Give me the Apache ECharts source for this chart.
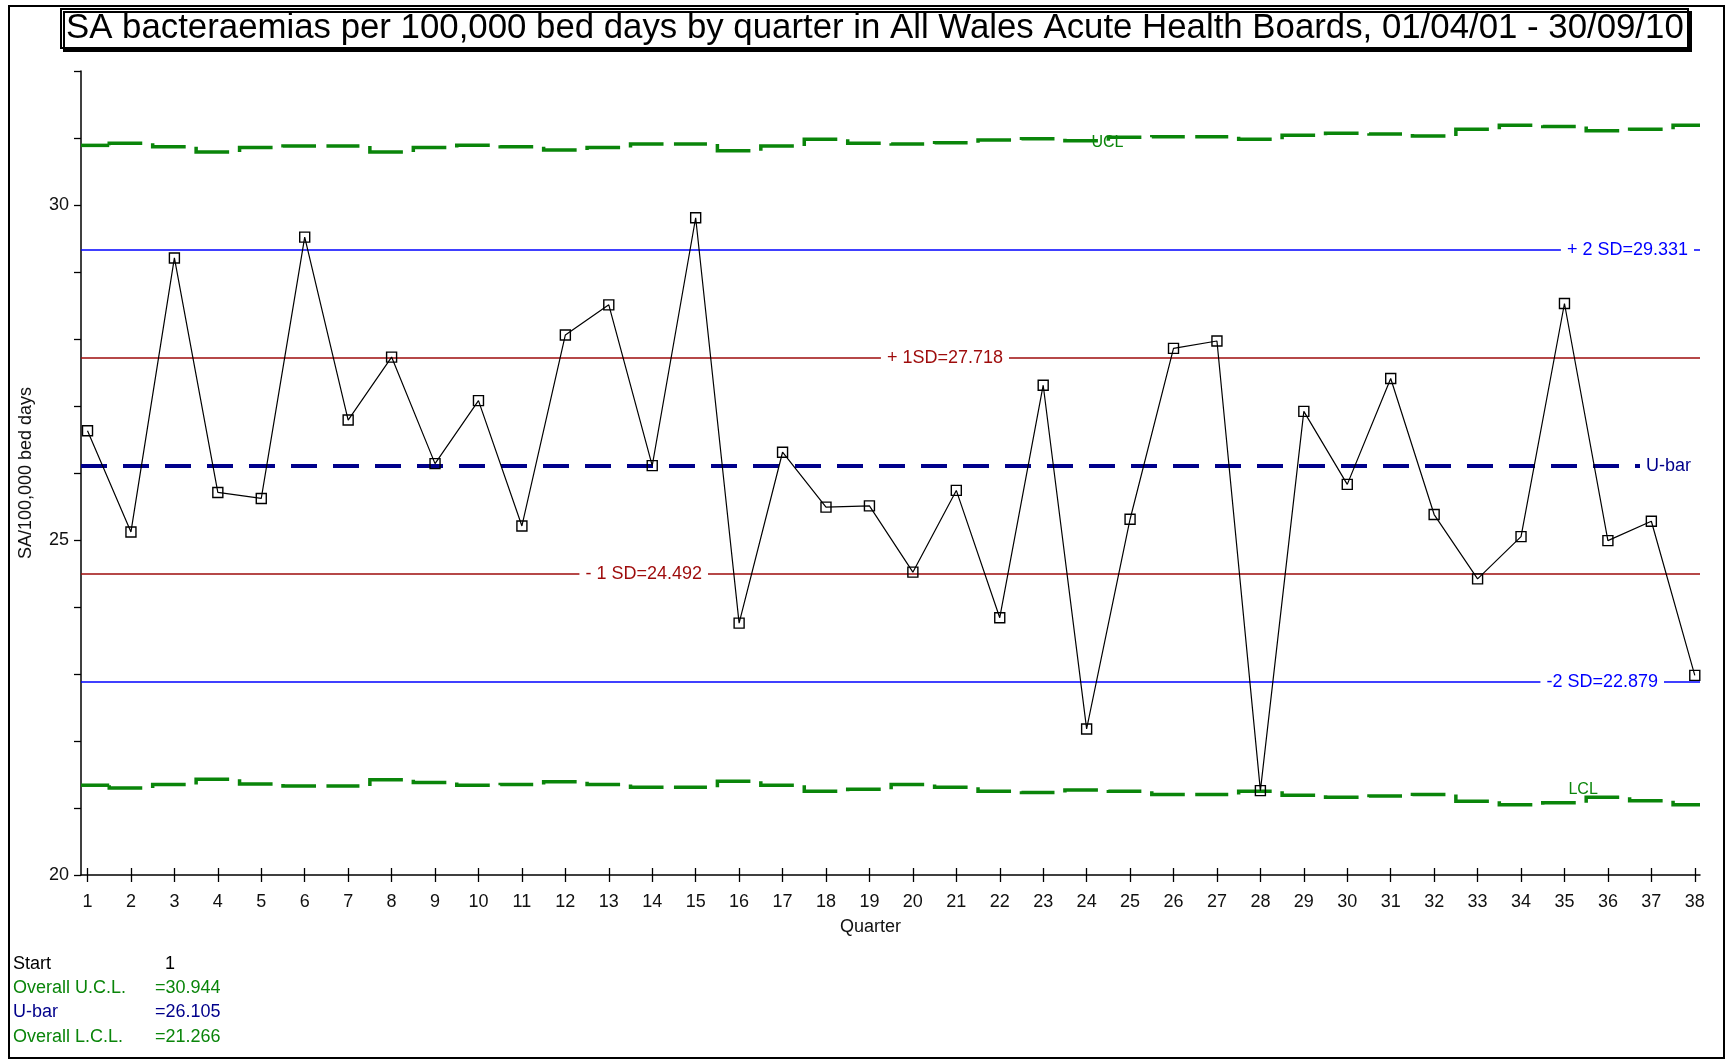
<!DOCTYPE html>
<html>
<head>
<meta charset="utf-8">
<title>SA bacteraemias control chart</title>
<script src="https://cdn.jsdelivr.net/npm/echarts@6/dist/echarts.min.js"></script>
<style>
  html, body { margin: 0; padding: 0; background: #fff; }
  #chart { width: 1731px; height: 1063px; }
</style>
</head>
<body>
<div id="chart"></div>
<script>
// quarters 1..38 (01/04/01 - 30/09/10)
var quarters = [1, 2, 3, 4, 5, 6, 7, 8, 9, 10, 11, 12, 13, 14, 15, 16, 17, 18, 19,
  20, 21, 22, 23, 24, 25, 26, 27, 28, 29, 30, 31, 32, 33, 34, 35, 36, 37, 38];

// SA per 100,000 bed days
var rates = [26.63, 25.12, 29.21, 25.71, 25.62, 29.52, 26.79, 27.73, 26.14, 27.08,
  25.21, 28.06, 28.51, 26.11, 29.81, 23.76, 26.31, 25.49, 25.51, 24.52,
  25.74, 23.84, 27.31, 22.18, 25.31, 27.86, 27.97, 21.26, 26.92, 25.83,
  27.41, 25.38, 24.42, 25.05, 28.53, 24.99, 25.28, 22.98];

// per-quarter control limits
var ucl = [30.89, 30.92, 30.87, 30.79, 30.86, 30.88, 30.88, 30.79, 30.86, 30.89,
  30.87, 30.82, 30.86, 30.91, 30.91, 30.81, 30.88, 30.98, 30.92, 30.91,
  30.93, 30.97, 30.99, 30.96, 31.01, 31.02, 31.02, 30.98, 31.04, 31.07,
  31.06, 31.03, 31.13, 31.19, 31.17, 31.11, 31.13, 31.19];
var lcl = [21.34, 21.30, 21.35, 21.43, 21.36, 21.33, 21.33, 21.42, 21.38, 21.34,
  21.35, 21.39, 21.35, 21.31, 21.31, 21.40, 21.34, 21.25, 21.28, 21.35,
  21.31, 21.25, 21.23, 21.27, 21.25, 21.20, 21.20, 21.25, 21.19, 21.16,
  21.18, 21.20, 21.10, 21.05, 21.08, 21.16, 21.11, 21.05];

var ubar = 26.105;
var plus1SD = 27.718, minus1SD = 24.492;
var plus2SD = 29.331, minus2SD = 22.879;
var overallUCL = 30.944, overallLCL = 21.266;

var yLabels = [20, 25, 30];

var FONT = '"Liberation Sans", Arial, sans-serif';
var GREEN = '#0a850a';
var NAVY = '#00008b';
var BLUE = '#0000ff';
var RED = '#9e0b0b';
var xMin = 0.85, xMax = 38.12;

// dashed step line for the limits: one dash per quarter, starting at the half-quarter
function limitSeries(name, levels) {
  return {
    name: name,
    type: 'custom',
    clip: true,
    silent: true,
    encode: { x: 0, y: 1 },
    data: levels.map(function (v, i) { return [quarters[i], v]; }),
    renderItem: function (params, api) {
      var i = params.dataIndex;
      var q = api.value(0), v = api.value(1);
      var pts;
      if (i === 0) {
        pts = [api.coord([xMin, v]), api.coord([q + 0.5, v])];
      } else {
        var prev = api.coord([q - 0.5, levels[i - 1]]);
        var a = api.coord([q - 0.5, v]);
        var b = api.coord([q + 0.5, v]);
        pts = [prev, a, [a[0] + (b[0] - a[0]) * 0.76, a[1]]];
      }
      return {
        type: 'polyline',
        shape: { points: pts },
        style: { stroke: GREEN, lineWidth: 3.5, fill: null }
      };
    }
  };
}

function refLine(value, text, color, dist, style, pad) {
  return {
    yAxis: value,
    lineStyle: { color: color, width: style === 'dashed' ? 4 : 1.5, type: style === 'dashed' ? [26, 16] : 'solid' },
    label: {
      show: true,
      formatter: text,
      position: 'insideEnd',
      distance: [dist, 0],
      color: color,
      fontFamily: FONT,
      fontSize: 18,
      backgroundColor: '#fff',
      padding: pad || [1, 6]
    }
  };
}

var chart = echarts.init(document.getElementById('chart'));

var option = {
  animation: false,
  backgroundColor: '#fff',
  title: {
    text: 'SA bacteraemias per 100,000 bed days by quarter in All Wales Acute Health Boards, 01/04/01 - 30/09/10',
    left: 61,
    top: 9,
    padding: [2, 5],
    backgroundColor: '#fff',
    borderColor: '#000',
    borderWidth: 2,
    shadowColor: '#000',
    shadowOffsetX: 3,
    shadowOffsetY: 3,
    shadowBlur: 0,
    textStyle: { fontFamily: FONT, fontSize: 34.8, fontWeight: 'normal', color: '#000', lineHeight: 35 },
    z: 10
  },
  grid: { left: 81, right: 31, top: 71, bottom: 188, containLabel: false },
  xAxis: [{
    type: 'value',
    min: xMin,
    max: xMax,
    name: 'Quarter',
    nameLocation: 'middle',
    nameGap: 43,
    nameTextStyle: { fontFamily: FONT, fontSize: 18, color: '#111', padding: [0, 40, 0, 0] },
    axisLine: { lineStyle: { color: '#000', width: 1.5 } },
    axisTick: { length: 7, customValues: quarters, lineStyle: { color: '#000', width: 1.3 } },
    axisLabel: { customValues: quarters, margin: 18, fontFamily: FONT, fontSize: 18, color: '#111' },
    splitLine: { show: false }
  }, {
    // upper half of the crossing ticks
    type: 'value',
    position: 'bottom',
    min: xMin,
    max: xMax,
    axisLine: { show: false },
    axisTick: { inside: true, length: 7, customValues: quarters, lineStyle: { color: '#000', width: 1.3 } },
    axisLabel: { show: false },
    splitLine: { show: false }
  }],
  yAxis: {
    type: 'value',
    min: 20,
    max: 32,
    interval: 1,
    name: 'SA/100,000 bed days',
    nameLocation: 'middle',
    nameGap: 46,
    nameTextStyle: { fontFamily: FONT, fontSize: 18, color: '#111' },
    axisLine: { show: true, lineStyle: { color: '#000', width: 1.5 } },
    axisTick: { length: 7, lineStyle: { color: '#000', width: 1.3 } },
    axisLabel: { customValues: yLabels, margin: 12, fontFamily: FONT, fontSize: 18, color: '#111' },
    splitLine: { show: false }
  },
  series: [
    limitSeries('UCL', ucl),
    limitSeries('LCL', lcl),
    {
      name: 'SA rate',
      type: 'line',
      data: quarters.map(function (q, i) { return [q, rates[i]]; }),
      symbol: 'rect',
      symbolSize: 10,
      showAllSymbol: true,
      lineStyle: { color: '#000', width: 1.2 },
      itemStyle: { color: 'rgba(255,255,255,0)', borderColor: '#000', borderWidth: 1.4 },
      z: 5,
      markLine: {
        silent: true,
        symbol: ['none', 'none'],
        z: 3,
        data: [
          refLine(plus2SD, '+ 2 SD=' + plus2SD.toFixed(3), BLUE, 6, 'solid'),
          refLine(plus1SD, '+ 1SD=' + plus1SD.toFixed(3), RED, 691, 'solid'),
          refLine(ubar, 'U-bar', NAVY, 0, 'dashed', [1, 9, 1, 6]),
          refLine(minus1SD, '- 1 SD=' + minus1SD.toFixed(3), RED, 992, 'solid'),
          refLine(minus2SD, '-2 SD=' + minus2SD.toFixed(3), BLUE, 36, 'solid')
        ]
      },
      markPoint: {
        silent: true,
        symbol: 'circle',
        symbolSize: 0,
        label: { show: true, position: 'inside', color: GREEN, fontFamily: FONT, fontSize: 16 },
        data: [
          { coord: [24.48, 30.93], value: 'UCL', label: { formatter: 'UCL' } },
          { coord: [35.43, 21.27], value: 'LCL', label: { formatter: 'LCL' } }
        ]
      }
    }
  ],
  graphic: [
    {
      type: 'rect',
      z: 0,
      silent: true,
      shape: { x: 9, y: 6, width: 1715, height: 1052 },
      style: { fill: null, stroke: '#000', lineWidth: 2 }
    },
    { type: 'text', x: 13, y: 964, style: { text: 'Start', fill: '#000', font: '18px ' + FONT, verticalAlign: 'middle' } },
    { type: 'text', x: 165, y: 964, style: { text: '1', fill: '#000', font: '18px ' + FONT, verticalAlign: 'middle' } },
    { type: 'text', x: 13, y: 988, style: { text: 'Overall U.C.L.', fill: GREEN, font: '18px ' + FONT, verticalAlign: 'middle' } },
    { type: 'text', x: 155, y: 988, style: { text: '=' + overallUCL.toFixed(3), fill: GREEN, font: '18px ' + FONT, verticalAlign: 'middle' } },
    { type: 'text', x: 13, y: 1012, style: { text: 'U-bar', fill: NAVY, font: '18px ' + FONT, verticalAlign: 'middle' } },
    { type: 'text', x: 155, y: 1012, style: { text: '=' + ubar.toFixed(3), fill: NAVY, font: '18px ' + FONT, verticalAlign: 'middle' } },
    { type: 'text', x: 13, y: 1037, style: { text: 'Overall L.C.L.', fill: GREEN, font: '18px ' + FONT, verticalAlign: 'middle' } },
    { type: 'text', x: 155, y: 1037, style: { text: '=' + overallLCL.toFixed(3), fill: GREEN, font: '18px ' + FONT, verticalAlign: 'middle' } }
  ]
};

chart.setOption(option);
</script>
</body>
</html>
